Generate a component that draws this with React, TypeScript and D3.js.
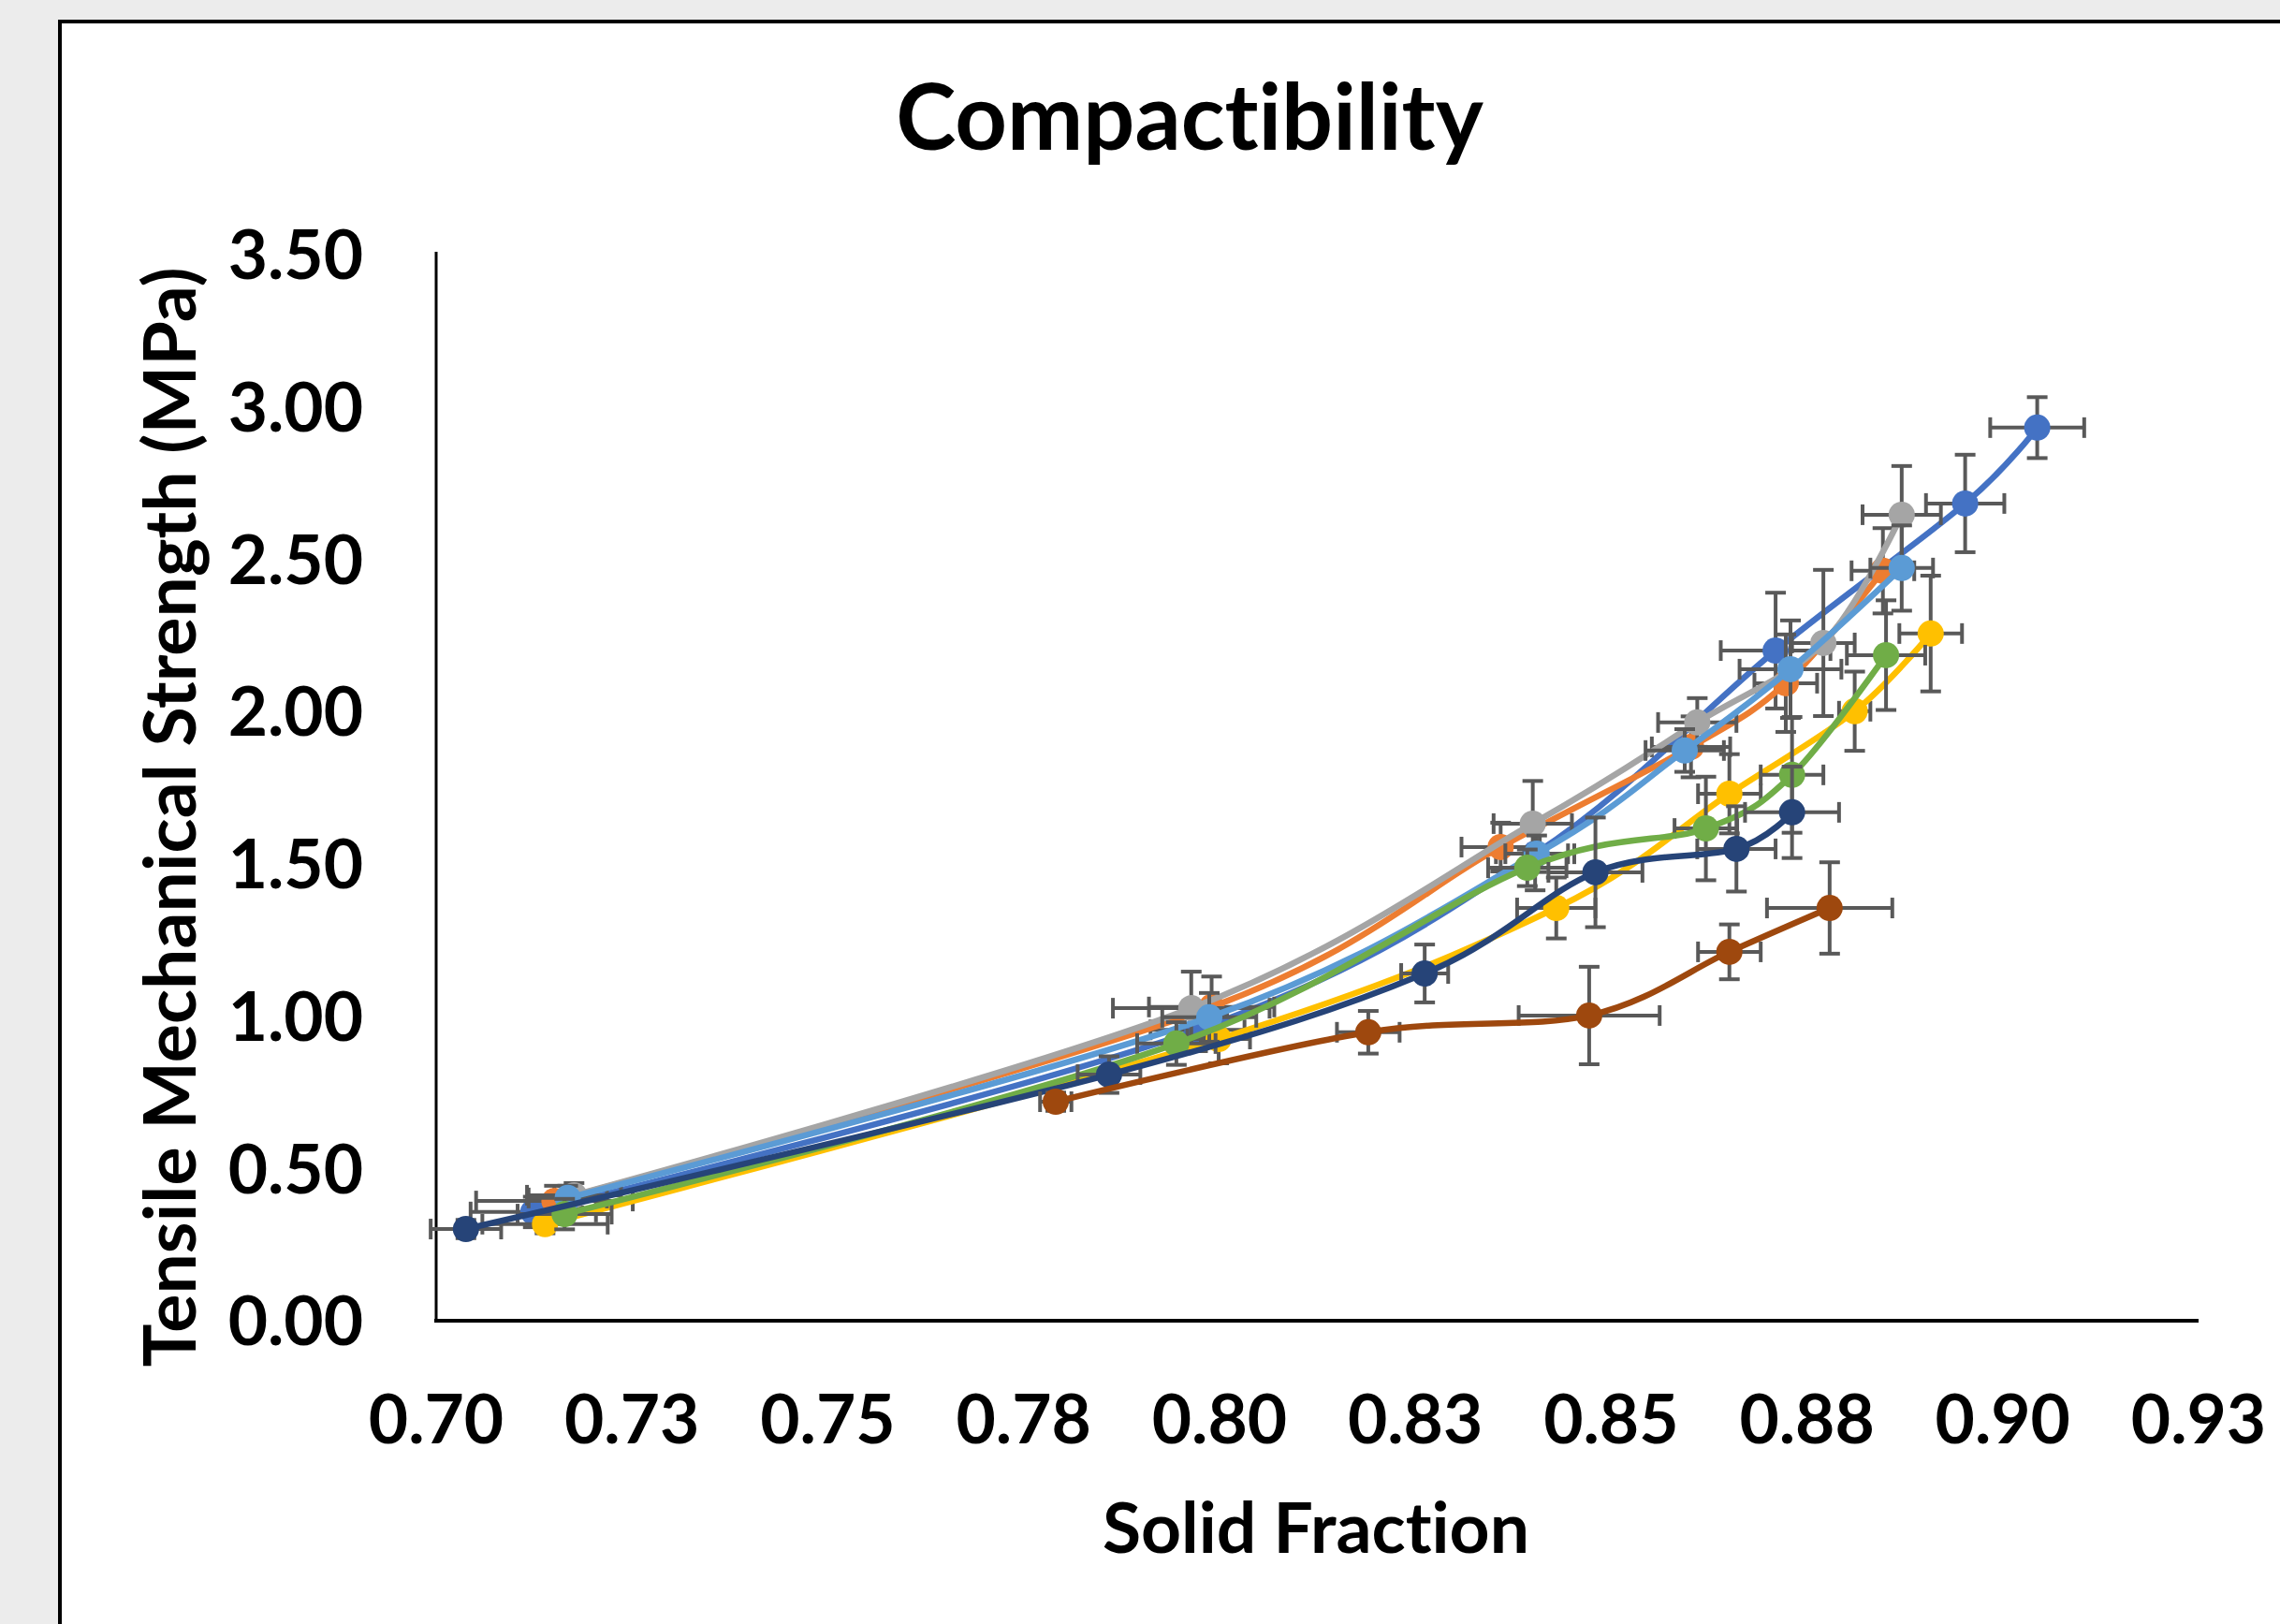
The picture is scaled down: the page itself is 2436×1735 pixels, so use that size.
import React from 'react';
import * as d3 from 'd3';

// series order follows the Excel default palette
const seriesColors = ['#4472C4', '#ED7D31', '#A5A5A5', '#FFC000', '#5B9BD5', '#70AD47', '#264478', '#9E480E'];

const solidFraction = [
  [0.7124, 0.7972, 0.8403, 0.871, 0.8952, 0.9044],
  [0.7151, 0.799, 0.8359, 0.8602, 0.8723, 0.8847],
  [0.7176, 0.7964, 0.84, 0.861, 0.8771, 0.8871],
  [0.7139, 0.7999, 0.843, 0.8651, 0.8811, 0.8908],
  [0.7168, 0.7987, 0.8405, 0.8594, 0.8729, 0.8871],
  [0.7164, 0.7945, 0.8393, 0.8621, 0.8731, 0.8851],
  [0.7038, 0.7859, 0.8262, 0.848, 0.866, 0.8731],
  [0.7791, 0.819, 0.8472, 0.8651, 0.8779],
];

const tensileStrength = [
  [0.357, 0.955, 1.533, 2.2, 2.683, 2.932],
  [0.393, 1.03, 1.555, 1.884, 2.093, 2.462],
  [0.412, 1.026, 1.632, 1.964, 2.225, 2.646],
  [0.317, 0.925, 1.355, 1.73, 2.001, 2.256],
  [0.403, 0.996, 1.533, 1.872, 2.139, 2.471],
  [0.35, 0.91, 1.487, 1.616, 1.792, 2.185],
  [0.301, 0.808, 1.14, 1.472, 1.549, 1.669],
  [0.719, 0.947, 1.002, 1.211, 1.355],
];

const sfError = [
  [0.008, 0.006, 0.005, 0.007, 0.005, 0.006],
  [0.01, 0.008, 0.005, 0.005, 0.004, 0.004],
  [0.006, 0.01, 0.005, 0.005, 0.004, 0.005],
  [0.008, 0.004, 0.005, 0.004, 0.002, 0.004],
  [0.005, 0.006, 0.004, 0.005, 0.0065, 0.004],
  [0.006, 0.005, 0.005, 0.004, 0.004, 0.005],
  [0.0045, 0.004, 0.003, 0.006, 0.005, 0.006],
  [0.002, 0.004, 0.009, 0.004, 0.008],
];

const tsError = [
  [0.05, 0.07, 0.12, 0.19, 0.16, 0.1],
  [0.05, 0.1, 0.08, 0.1, 0.16, 0.14],
  [0.04, 0.12, 0.14, 0.08, 0.24, 0.16],
  [0.03, 0.08, 0.1, 0.13, 0.13, 0.19],
  [0.04, 0.08, 0.06, 0.07, 0.16, 0.14],
  [0.05, 0.07, 0.06, 0.17, 0.19, 0.18],
  [0.03, 0.06, 0.095, 0.18, 0.14, 0.15],
  [0.03, 0.07, 0.16, 0.09, 0.15],
];

const yTicks = [0, 0.5, 1, 1.5, 2, 2.5, 3, 3.5];
const xTicks = [0.7, 0.725, 0.75, 0.775, 0.8, 0.825, 0.85, 0.875, 0.9, 0.925];
const xTickLabels = ['0.70', '0.73', '0.75', '0.78', '0.80', '0.83', '0.85', '0.88', '0.90', '0.93'];

const W = 2436;
const H = 1735;
const font = 'Lato, "Open Sans", sans-serif';
const errColor = '#595959';
const noLig = {fontVariantLigatures: 'none'} as React.CSSProperties;

export default function App() {
  const x = d3.scaleLinear().domain([0.7, 0.925]).range([466, 2349]);
  const y = d3.scaleLinear().domain([0, 3.5]).range([1411, 272]);
  const fmt = d3.format('.2f');

  const line = d3
    .line<[number, number]>()
    .x(d => x(d[0]))
    .y(d => y(d[1]))
    .curve(d3.curveCardinal.tension(0));

  const cap = 11;

  return (
    <svg width={W} height={H} style={{position: 'absolute', left: 0, top: 0}}>
      <rect x={0} y={0} width={W} height={H} fill="#ececec" />
      <rect x={64} y={23} width={W} height={H} fill="#fff" stroke="#000" strokeWidth={4} />

      <text x={1271} y={160} textAnchor="middle" fontFamily={font} fontWeight="bold" fontSize={97} style={noLig}>
        Compactibility
      </text>

      {yTicks.map(t => (
        <text key={t} x={388} y={y(t)} dy="0.36em" textAnchor="end" fontFamily={font} fontWeight="bold" fontSize={73}>
          {fmt(t)}
        </text>
      ))}
      {xTicks.map((t, i) => (
        <text key={t} x={x(t)} y={1516} dy="0.36em" textAnchor="middle" fontFamily={font} fontWeight="bold" fontSize={73}>
          {xTickLabels[i]}
        </text>
      ))}

      <text
        transform="translate(181,873) rotate(-90)"
        dy="0.36em"
        textAnchor="middle"
        fontFamily={font}
        fontWeight="bold"
        fontSize={77}
        style={noLig}
      >
        Tensile Mechanical Strength (MPa)
      </text>
      <text x={1406} y={1659} textAnchor="middle" fontFamily={font} fontWeight="bold" fontSize={75} style={noLig}>
        Solid Fraction
      </text>

      <line x1={466} x2={466} y1={269} y2={1411} stroke="#000" strokeWidth={3} />
      <line x1={464} x2={2349} y1={1411} y2={1411} stroke="#000" strokeWidth={4} />

      {seriesColors.map((color, s) => {
        const pts = solidFraction[s].map((v, i) => [v, tensileStrength[s][i]] as [number, number]);
        return (
          <g key={s}>
            {pts.map((p, i) => {
              const cx = x(p[0]);
              const cy = y(p[1]);
              const x0 = x(p[0] - sfError[s][i]);
              const x1 = x(p[0] + sfError[s][i]);
              const y0 = y(p[1] - tsError[s][i]);
              const y1 = y(p[1] + tsError[s][i]);
              return (
                <g key={i} stroke={errColor} strokeWidth={4}>
                  <line x1={x0} x2={x1} y1={cy} y2={cy} />
                  <line x1={x0} x2={x0} y1={cy - cap} y2={cy + cap} />
                  <line x1={x1} x2={x1} y1={cy - cap} y2={cy + cap} />
                  <line x1={cx} x2={cx} y1={y0} y2={y1} />
                  <line x1={cx - cap} x2={cx + cap} y1={y0} y2={y0} />
                  <line x1={cx - cap} x2={cx + cap} y1={y1} y2={y1} />
                </g>
              );
            })}
            <path d={line(pts) || ''} fill="none" stroke={color} strokeWidth={6.5} />
            {pts.map((p, i) => (
              <circle key={i} cx={x(p[0])} cy={y(p[1])} r={14} fill={color} />
            ))}
          </g>
        );
      })}
    </svg>
  );
}
